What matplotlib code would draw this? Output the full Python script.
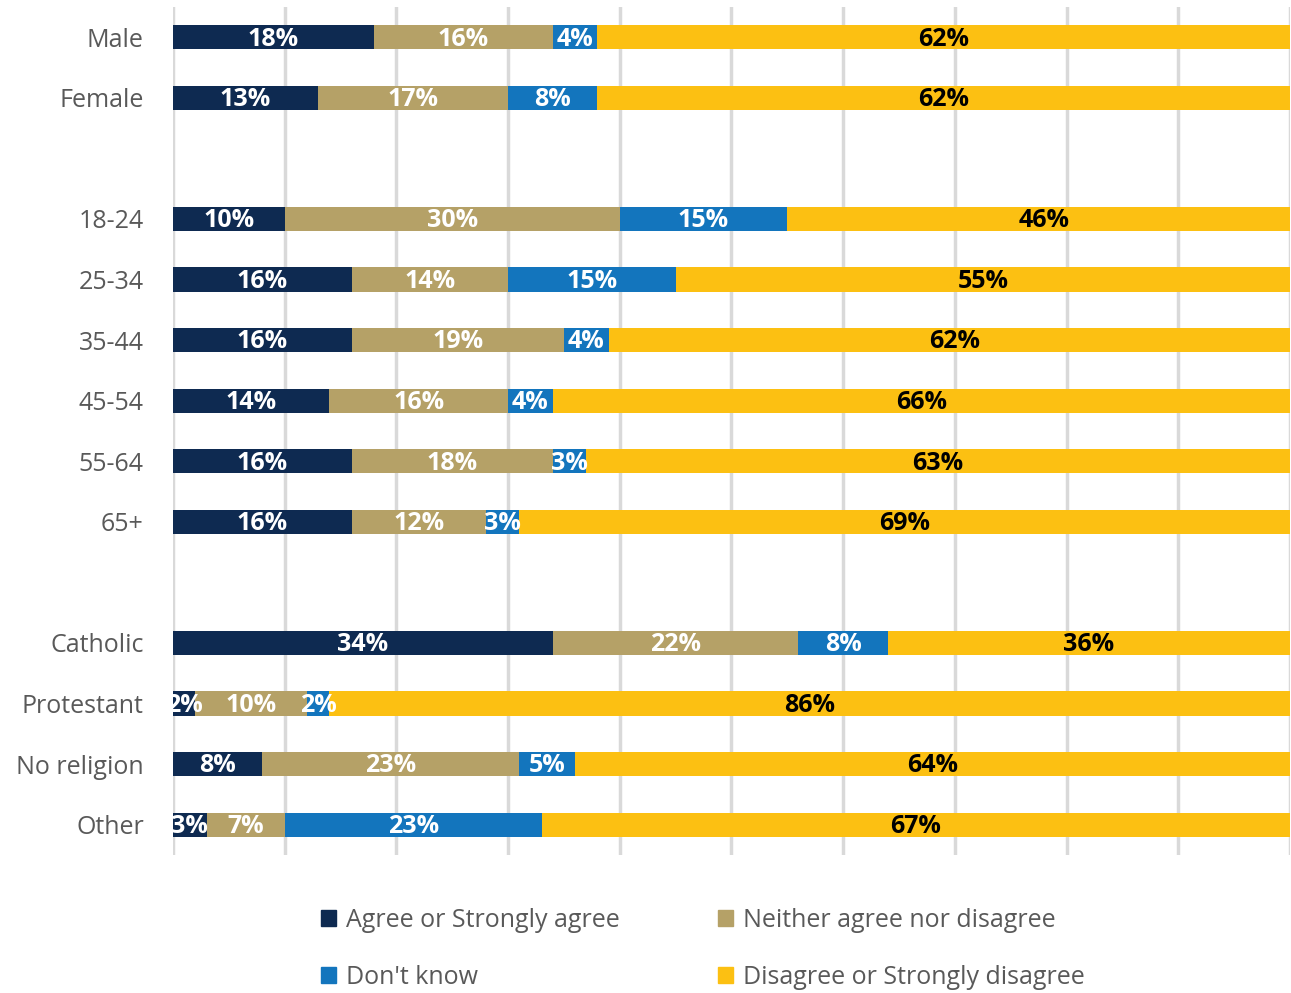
import matplotlib.pyplot as plt
from matplotlib.patches import Patch

plt.rcParams['font.family'] = ['Open Sans', 'DejaVu Sans']

groups = ['Male', 'Female', '',
          '18-24', '25-34', '35-44', '45-54', '55-64', '65+', '',
          'Catholic', 'Protestant', 'No religion', 'Other']

agree    = [18, 13, None, 10, 16, 16, 14, 16, 16, None, 34, 2, 8, 3]
neither  = [16, 17, None, 30, 14, 19, 16, 18, 12, None, 22, 10, 23, 7]
dontknow = [4, 8, None, 15, 15, 4, 4, 3, 3, None, 8, 2, 5, 23]
disagree = [62, 62, None, 46, 55, 62, 66, 63, 69, None, 36, 86, 64, 67]

series = [
    ('Agree or Strongly agree', agree, '#0E2A51', 'white'),
    ('Neither agree nor disagree', neither, '#B5A167', 'white'),
    ("Don't know", dontknow, '#1375BD', 'white'),
    ('Disagree or Strongly disagree', disagree, '#FCC012', 'black'),
]

fig = plt.figure(figsize=(12.91, 9.93), dpi=100)
ax = fig.add_axes([0.134, 0.139, 0.8652, 0.854])

rows = [i for i, g in enumerate(groups) if g]
left = {i: 0 for i in rows}
for name, vals, color, tcol in series:
    w = [vals[i] for i in rows]
    l = [left[i] for i in rows]
    ax.barh(rows, w, left=l, height=0.4, color=color, label=name, zorder=3)
    for i, v, s in zip(rows, w, l):
        ax.text(s + v / 2, i + 0.03, f'{v}%', ha='center', va='center',
                color=tcol, fontsize=18, fontweight='bold', zorder=4)
        left[i] += v

ax.set_xlim(0, 100)
ax.set_ylim(13.5, -0.5)
ax.set_xticks(range(0, 101, 10))
ax.set_xticklabels([])
ax.set_yticks(rows)
ax.set_yticklabels([groups[i] for i in rows], fontsize=18, color='#595959')
ax.tick_params(axis='both', length=0)
ax.tick_params(axis='y', pad=21)
ax.grid(axis='x', color='#D9D9D9', linewidth=2.5, zorder=0)
for sp in ax.spines.values():
    sp.set_visible(False)

handles = [Patch(color=c) for _, _, c, _ in series]
labels = [n for n, _, _, _ in series]
order = [0, 2, 1, 3]
fig.legend([handles[k] for k in order], [labels[k] for k in order],
           ncol=2, loc='center', bbox_to_anchor=(0.5445, 0.0448), frameon=False,
           fontsize=18, labelcolor='#595959', handlelength=0.6, handleheight=0.6,
           handletextpad=0.4, columnspacing=3.9, labelspacing=1.28)

fig.savefig('out.png', dpi=100)
